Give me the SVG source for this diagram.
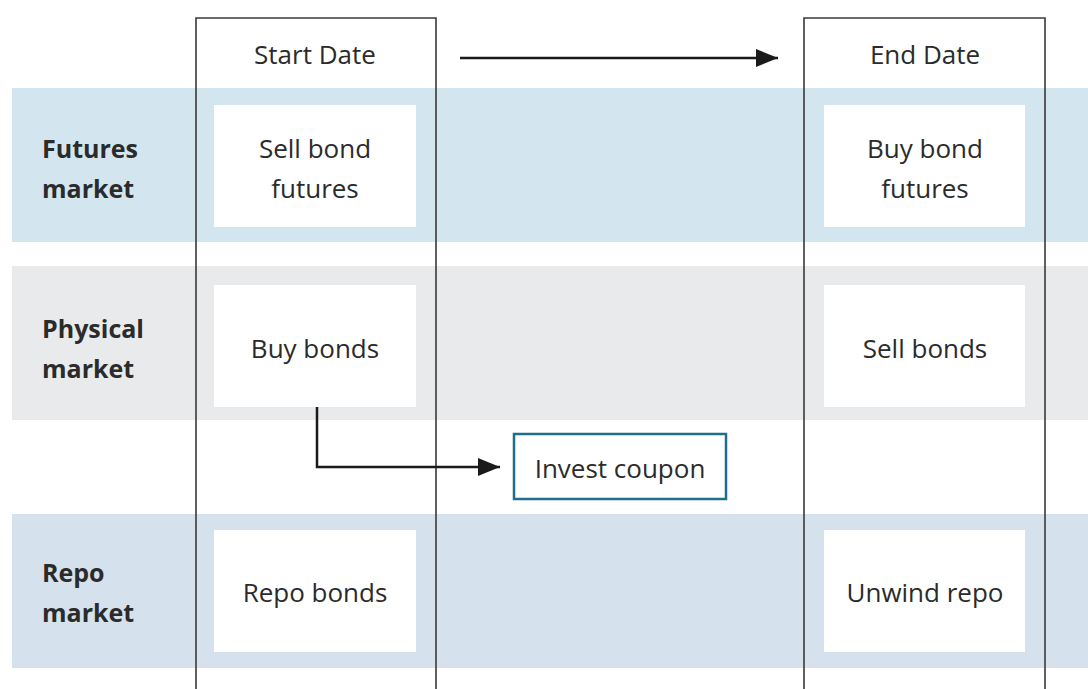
<svg xmlns="http://www.w3.org/2000/svg" width="1088" height="689" viewBox="0 0 1088 689">
<style>
.t{font-family:"Open Sans","Noto Sans","Liberation Sans",sans-serif;font-size:26px;fill:#2b2b2b;text-anchor:middle;dominant-baseline:central}
.l{font-family:"Open Sans","Noto Sans","Liberation Sans",sans-serif;font-size:25px;font-weight:bold;fill:#2b2b2b;dominant-baseline:central}
.box{fill:#ffffff}
.col{fill:none;stroke:#3a3a3a;stroke-width:1.6}
.conn{fill:none;stroke:#1a1a1a;stroke-width:2.5}
</style>
<defs>
<marker id="ah" markerWidth="10" markerHeight="8" refX="10" refY="4" orient="auto" markerUnits="userSpaceOnUse" viewBox="0 0 10 8">
<path d="M0,0 L10,4 L0,8 z" fill="#1a1a1a"/>
</marker>
<marker id="ah2" viewBox="0 0 22 18" refX="22" refY="9" markerWidth="22" markerHeight="18" orient="auto" markerUnits="userSpaceOnUse">
<path d="M0,0 L22,9 L0,18 z" fill="#1a1a1a"/>
</marker>
</defs>
<rect width="1088" height="689" fill="#ffffff"/>
<g id="bands">
<rect x="12" y="88" width="1076" height="154" fill="#d3e6ef"/>
<rect x="12" y="266" width="1076" height="154" fill="#e9eaec"/>
<rect x="12" y="514" width="1076" height="154" fill="#d5e1ec"/>
</g>
<g id="row-labels">
<text class="l" x="42" y="148">Futures</text>
<text class="l" x="42" y="188">market</text>
<text class="l" x="42" y="328">Physical</text>
<text class="l" x="42" y="368">market</text>
<text class="l" x="42" y="572">Repo</text>
<text class="l" x="42" y="612">market</text>
</g>
<g id="start-date">
<path class="col" d="M196,690 V18 H436 V690"/>
<text class="t" x="315" y="54">Start Date</text>
</g>
<g id="end-date">
<path class="col" d="M804,690 V18 H1045 V690"/>
<text class="t" x="925" y="54">End Date</text>
</g>
<g id="sell-bond-futures">
<rect class="box" x="214" y="105" width="202" height="122"/>
<text class="t" x="315" y="148">Sell bond</text>
<text class="t" x="315" y="188">futures</text>
</g>
<g id="buy-bond-futures">
<rect class="box" x="824" y="105" width="201" height="122"/>
<text class="t" x="925" y="148">Buy bond</text>
<text class="t" x="925" y="188">futures</text>
</g>
<g id="buy-bonds">
<rect class="box" x="214" y="285" width="202" height="122"/>
<text class="t" x="315" y="348">Buy bonds</text>
</g>
<g id="sell-bonds">
<rect class="box" x="824" y="285" width="201" height="122"/>
<text class="t" x="925" y="348">Sell bonds</text>
</g>
<g id="repo-bonds">
<rect class="box" x="214" y="530" width="202" height="122"/>
<text class="t" x="315" y="592">Repo bonds</text>
</g>
<g id="unwind-repo">
<rect class="box" x="824" y="530" width="201" height="122"/>
<text class="t" x="925" y="592">Unwind repo</text>
</g>
<g id="invest-coupon">
<rect x="514" y="434" width="212" height="65" fill="#ffffff" stroke="#1f6e8c" stroke-width="2.5"/>
<text class="t" x="620" y="468">Invest coupon</text>
</g>
<g id="connectors">
<path class="conn" d="M460,58 H778" marker-end="url(#ah2)"/>
<path class="conn" d="M317,407 V467 H500" marker-end="url(#ah2)"/>
</g>
</svg>
